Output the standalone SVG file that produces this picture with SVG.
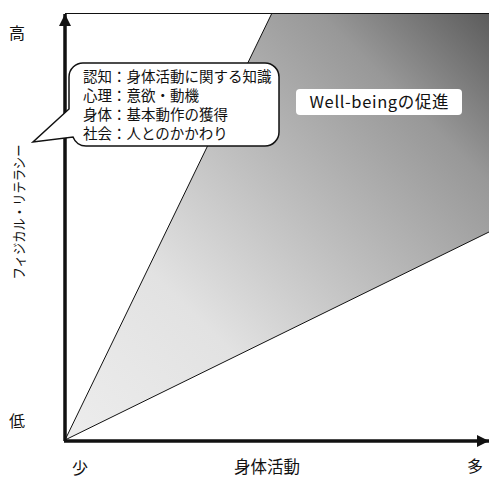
<svg xmlns="http://www.w3.org/2000/svg" width="489" height="479" viewBox="0 0 489 479">
<style>
text{font-family:"Noto Sans CJK JP","Noto Sans",sans-serif;fill:#111}
.ax{font-size:16px}
.cl{font-size:14.5px}
.thin{fill:none;stroke:#111;stroke-width:1}
.axis{fill:none;stroke:#111;stroke-width:3.5}
</style>
<defs>
<linearGradient id="g" gradientUnits="userSpaceOnUse" x1="65" y1="441" x2="489" y2="13">
<stop offset="0" stop-color="#ededed"/>
<stop offset="0.3" stop-color="#e2e2e2"/>
<stop offset="0.8" stop-color="#989898"/>
<stop offset="1" stop-color="#5c5c5c"/>
</linearGradient>
<marker id="ah" markerUnits="userSpaceOnUse" markerWidth="14" markerHeight="14" refX="12" refY="6" orient="auto">
<path d="M0,0 L12,6 L0,12 Z" fill="#111"/>
</marker>
</defs>
<g id="region">
<polygon points="65,440 272,13 489,13 489,232" fill="url(#g)"/>
</g>
<g id="connectors">
<line class="thin" x1="65" y1="440" x2="272" y2="13"/>
<line class="thin" x1="65" y1="440" x2="489" y2="232"/>
<line class="thin" x1="65" y1="13.5" x2="489" y2="13.5"/>
<line class="axis" x1="65" y1="441" x2="65" y2="14" marker-end="url(#ah)"/>
<line class="axis" x1="64" y1="441" x2="489" y2="441" marker-end="url(#ah)"/>
</g>
<g id="callout">
<path d="M84,63 H265 A14,14 0 0 1 279,77 V132 A14,14 0 0 1 265,146 H86 A14,14 0 0 1 73,137 L33,142 L69,109 V77 A14,14 0 0 1 84,63 Z" fill="#fff" stroke="#111" stroke-width="1.5"/>
<text class="cl" x="83" y="82">認知：身体活動に関する知識</text>
<text class="cl" x="83" y="101">心理：意欲・動機</text>
<text class="cl" x="83" y="120">身体：基本動作の獲得</text>
<text class="cl" x="83" y="139">社会：人とのかかわり</text>
</g>
<g id="wellbeing">
<rect x="296" y="89" width="166" height="26" rx="4" fill="#fff"/>
<text x="379" y="108" font-size="16.5" text-anchor="middle" textLength="139" lengthAdjust="spacing">Well-beingの促進</text>
</g>
<g id="labels">
<text class="ax" x="17" y="39" text-anchor="middle">高</text>
<text class="ax" x="17" y="427" text-anchor="middle">低</text>
<text class="ax" x="80" y="474" text-anchor="middle">少</text>
<text class="ax" x="475" y="472" text-anchor="middle">多</text>
<text x="267" y="473" font-size="16.5" text-anchor="middle">身体活動</text>
<text transform="translate(24,212) rotate(-90)" font-size="14" text-anchor="middle" textLength="135" lengthAdjust="spacingAndGlyphs">フィジカル・リテラシー</text>
</g>
</svg>
